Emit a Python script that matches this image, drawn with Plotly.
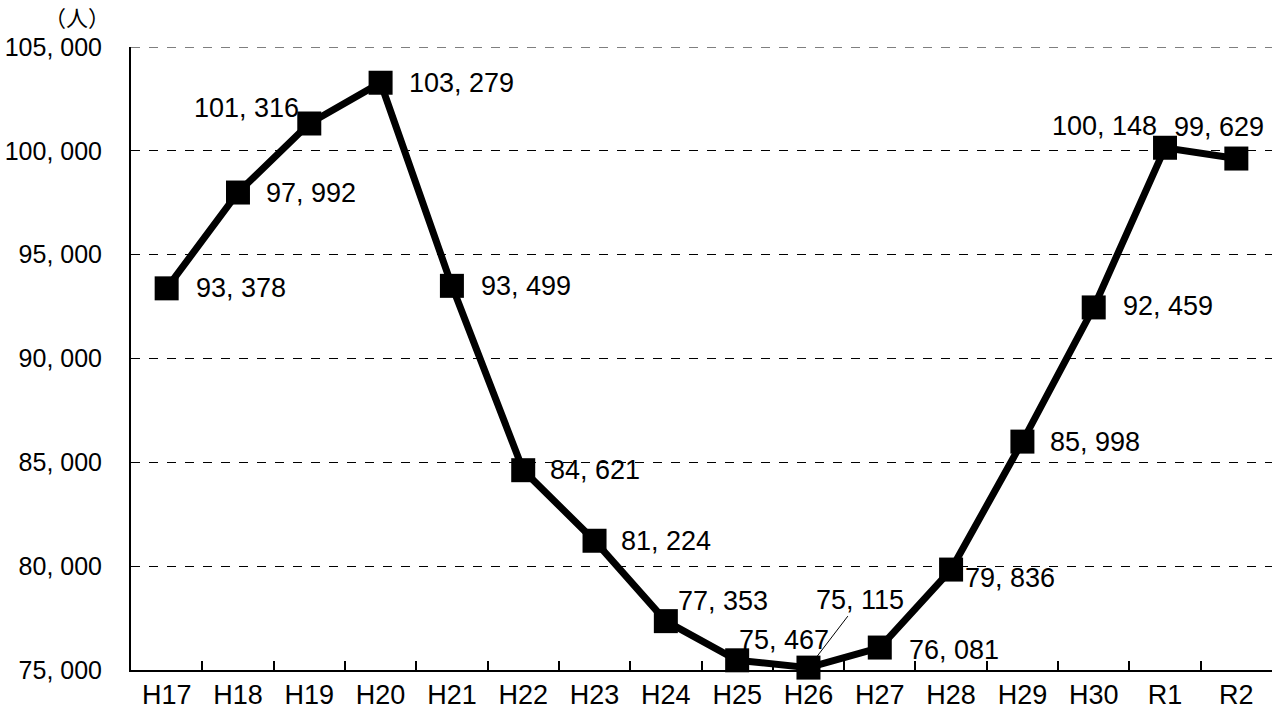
import plotly.graph_objects as go

# Annual headcount by fiscal year
years = ["H17", "H18", "H19", "H20", "H21", "H22", "H23", "H24",
         "H25", "H26", "H27", "H28", "H29", "H30", "R1", "R2"]
people = [93378, 97992, 101316, 103279, 93499, 84621, 81224, 77353,
          75467, 75115, 76081, 79836, 85998, 92459, 100148, 99629]

y_ticks = [75000, 80000, 85000, 90000, 95000, 100000, 105000]

FAMILY = "Liberation Sans Narrow, Arial Narrow, Liberation Sans, sans-serif"
FONT = dict(family=FAMILY, size=27, color="black")
YFONT = dict(family=FAMILY, size=25, color="black")


def fmt(v):
    return f"{v:,}".replace(",", ", ")


# label placement per point: (xanchor, xshift, yshift)
label_pos = [
    ("left", 27, 0), ("left", 26, 0), ("right", -8, 16), ("left", 26, 0),
    ("left", 27, 0), ("left", 25, 0), ("left", 24, 0), ("left", 10, 20),
    ("left", 0, 20), None, ("left", 27, -2), ("left", 12, -8),
    ("left", 26, 0), ("left", 27, 1), ("right", -6, 22), ("center", -17, 32),
]

fig = go.Figure()
fig.add_trace(go.Scatter(
    x=years, y=people, mode="lines+markers",
    line=dict(color="black", width=7),
    marker=dict(symbol="square", size=24, color="black"),
    cliponaxis=False, hoverinfo="skip",
))

for cat, val, pos in zip(years, people, label_pos):
    if pos is None:
        # label with a leader line
        fig.add_annotation(
            x=cat, y=val, text=fmt(val), showarrow=True,
            arrowhead=0, arrowwidth=1, arrowcolor="black",
            ax=52, ay=-68, standoff=13, font=FONT,
        )
        continue
    anchor, dx, dy = pos
    fig.add_annotation(
        x=cat, y=val, text=fmt(val), showarrow=False,
        xanchor=anchor, yanchor="middle", xshift=dx, yshift=dy, font=FONT,
    )

# unit label above the value axis
fig.add_annotation(
    xref="paper", yref="paper", x=-0.047, y=1.0, yshift=31,
    text="（人）", showarrow=False, xanchor="center", yanchor="middle",
    font=dict(family="Noto Sans CJK JP", size=22, color="black"),
)

# dashed gridline on the top edge of the value range
fig.add_shape(
    type="line", xref="paper", yref="y", x0=0, x1=1,
    y0=y_ticks[-1], y1=y_ticks[-1],
    line=dict(color="black", width=1, dash="dash"),
)

fig.update_xaxes(
    type="category", tickson="boundaries", ticks="inside", ticklen=9,
    tickcolor="black", tickwidth=1.5, showline=True, linecolor="black",
    linewidth=2, showgrid=False, tickfont=FONT, range=[-0.5, 15.5],
    automargin=False,
)
fig.update_yaxes(
    range=[75000, 105000], tickvals=y_ticks,
    ticktext=[fmt(v) for v in y_ticks], tickfont=YFONT,
    showline=True, linecolor="black", linewidth=2,
    ticks="", showgrid=True, gridcolor="black", gridwidth=1,
    griddash="dash", zeroline=False, ticklabelstandoff=22,
    automargin=False,
)

fig.update_layout(
    width=1276, height=720, showlegend=False,
    paper_bgcolor="white", plot_bgcolor="white",
    margin=dict(l=131, r=4, t=47, b=50),
)

fig.write_html("out.html")
